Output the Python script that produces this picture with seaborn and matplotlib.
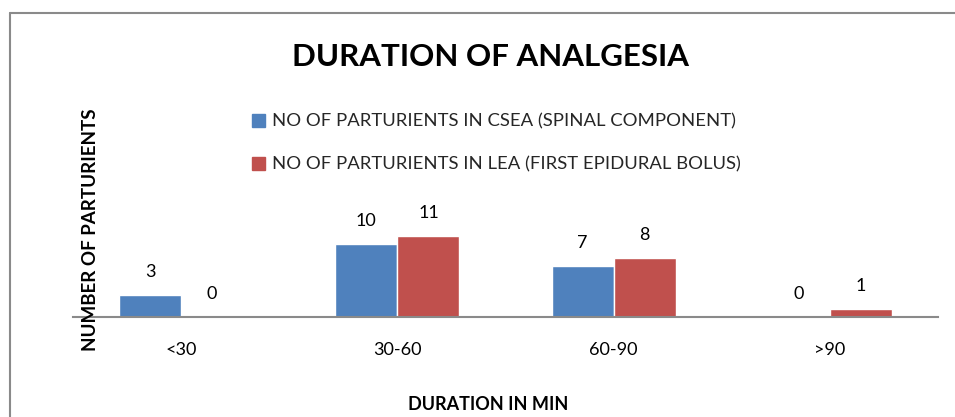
import matplotlib
matplotlib.use("Agg")
import matplotlib.pyplot as plt
import matplotlib.lines as mlines
import matplotlib.patches as mpatches
import seaborn as sns
import pandas as pd

categories = ["<30", "30-60", "60-90", ">90"]
csea_values = [3, 10, 7, 0]
lea_values = [0, 11, 8, 1]
series_names = ["NO OF PARTURIENTS IN CSEA (SPINAL COMPONENT)",
                "NO OF PARTURIENTS IN LEA (FIRST EPIDURAL BOLUS)"]
colors = ["#4F81BD", "#C0504D"]

df = pd.DataFrame({
    "cat": categories * 2,
    "val": csea_values + lea_values,
    "series": [series_names[0]] * 4 + [series_names[1]] * 4,
})

sns.set_theme(style="white")
plt.rcParams["font.family"] = ["Lato", "DejaVu Sans"]

W, H = 955, 417
fig = plt.figure(figsize=(W / 100, H / 100), dpi=100)
ax_bottom = (H - 316.7) / H
ax_height = 146 / H
ax = fig.add_axes([73 / W, ax_bottom, 865 / W, ax_height])

sns.barplot(data=df, x="cat", y="val", hue="series", palette=colors,
            order=categories, hue_order=series_names, width=0.574, gap=0,
            ax=ax, legend=False, saturation=1)
ax.set_xlim(-0.5, 3.5)
ax.set_ylim(0, 20)

for cont in ax.containers:
    for bar in cont:
        h = bar.get_height()
        ax.annotate(f"{int(round(h))}", (bar.get_x() + bar.get_width() / 2, h),
                    xytext=(0, 23), textcoords="offset pixels",
                    ha="center", va="center", fontsize=13, color="#000000",
                    annotation_clip=False)

for s in ["top", "right", "left"]:
    ax.spines[s].set_visible(False)
ax.spines["bottom"].set_color("#8a8a8a")
ax.spines["bottom"].set_linewidth(1.5)
ax.set_yticks([])
ax.tick_params(axis="x", length=0, pad=18, labelsize=13, colors="#000000")
ax.set_xlabel("")
ax.set_ylabel("")

fig.text(490 / W, 1 - 57 / H, "DURATION OF ANALGESIA", ha="center", va="center",
         fontsize=22.5, fontweight="bold", color="#000000")
fig.text(90 / W, 1 - 230 / H, "NUMBER OF PARTURIENTS", ha="center", va="center",
         rotation=90, fontsize=13.5, fontweight="bold", color="#000000")
fig.text(488 / W, 1 - 405 / H, "DURATION IN MIN", ha="center", va="center",
         fontsize=13, fontweight="bold", color="#000000")

handles = [mpatches.Patch(color=c, label=n) for c, n in zip(colors, series_names)]
fig.legend(handles=handles, loc="upper left", bbox_to_anchor=(252 / W, 1 - 113.5 / H),
           frameon=False, fontsize=13.3, handlelength=0.7, handleheight=0.7,
           handletextpad=0.4, labelspacing=1.45, borderaxespad=0, borderpad=0)

# outer border of the chart area
fig.add_artist(mlines.Line2D([10 / W, 1.0], [1 - 13 / H, 1 - 13 / H],
                             transform=fig.transFigure, color="#8a8a8a", lw=1.5))
fig.add_artist(mlines.Line2D([10 / W, 10 / W], [0, 1 - 13 / H],
                             transform=fig.transFigure, color="#8a8a8a", lw=1.5))
fig.text(11 / W, 1 + 4 / H, "g", ha="left", va="baseline", fontsize=16, color="#000000")

fig.savefig("out.png", dpi=100)
